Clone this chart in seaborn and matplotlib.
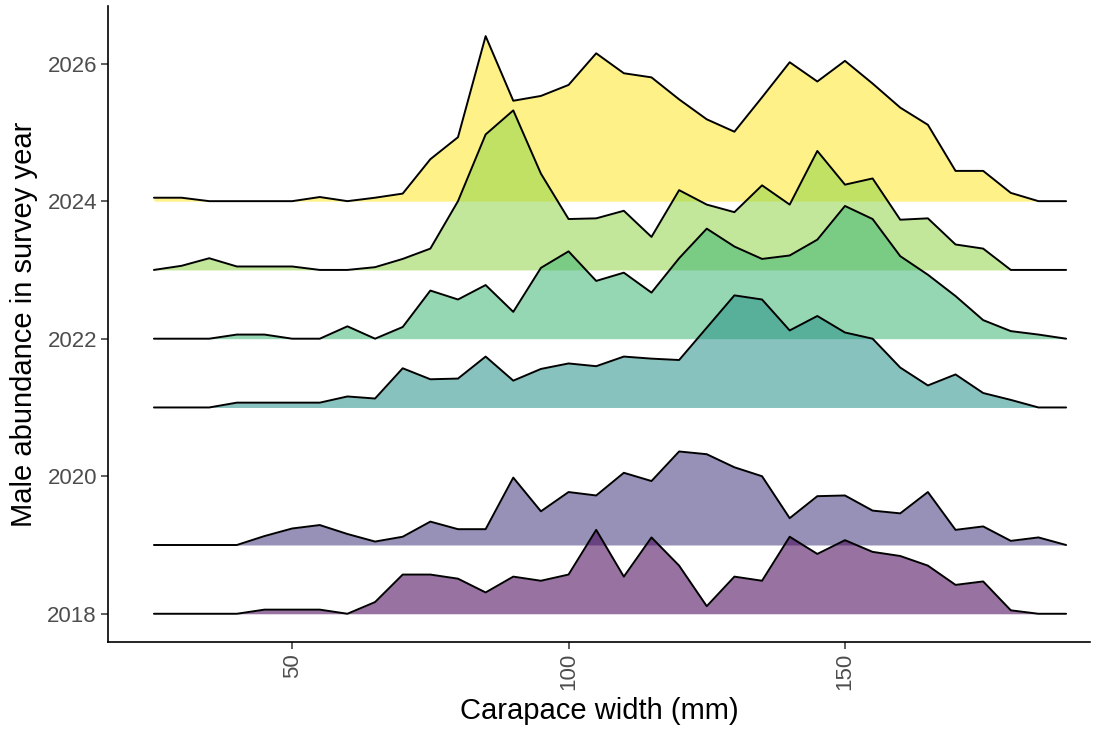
import numpy as np
import pandas as pd
import matplotlib
matplotlib.use("Agg")
import matplotlib.pyplot as plt
from matplotlib.colors import LinearSegmentedColormap
import seaborn as sns

# ---- data ----
years = [2018, 2019, 2021, 2022, 2023, 2024]
widths = [25, 30, 35, 40, 45, 50, 55, 60, 65, 70, 75, 80, 85, 90, 95, 100, 105,
          110, 115, 120, 125, 130, 135, 140, 145, 150, 155, 160, 165, 170, 175,
          180, 185, 190]
h2018 = [0, 0, 0, 0, 0.06, 0.06, 0.06, 0, 0.17, 0.57, 0.57, 0.51, 0.31, 0.54, 0.48,
         0.57, 1.22, 0.54, 1.11, 0.70, 0.11, 0.54, 0.48, 1.12, 0.87, 1.07, 0.90,
         0.84, 0.70, 0.42, 0.47, 0.05, 0, 0]
h2019 = [0, 0, 0, 0, 0.13, 0.24, 0.29, 0.16, 0.05, 0.12, 0.34, 0.23, 0.23, 0.98, 0.49,
         0.77, 0.72, 1.05, 0.93, 1.36, 1.32, 1.13, 1.00, 0.39, 0.71, 0.72, 0.50,
         0.46, 0.77, 0.22, 0.27, 0.06, 0.11, 0]
h2021 = [0, 0, 0, 0.07, 0.07, 0.07, 0.07, 0.16, 0.13, 0.57, 0.41, 0.42, 0.74, 0.39,
         0.56, 0.64, 0.60, 0.74, 0.71, 0.69, 1.16, 1.63, 1.57, 1.12, 1.33, 1.09,
         1.00, 0.58, 0.32, 0.48, 0.21, 0.11, 0, 0]
h2022 = [0, 0, 0, 0.06, 0.06, 0, 0, 0.18, 0, 0.17, 0.70, 0.57, 0.78, 0.39, 1.03,
         1.27, 0.84, 0.96, 0.67, 1.17, 1.60, 1.34, 1.16, 1.21, 1.44, 1.93, 1.74,
         1.20, 0.93, 0.62, 0.27, 0.11, 0.06, 0]
h2023 = [0, 0.06, 0.17, 0.05, 0.05, 0.05, 0, 0, 0.04, 0.16, 0.31, 1.00, 1.97, 2.32,
         1.40, 0.74, 0.75, 0.86, 0.48, 1.16, 0.95, 0.84, 1.23, 0.95, 1.73, 1.24,
         1.33, 0.73, 0.75, 0.37, 0.31, 0, 0, 0]
h2024 = [0.05, 0.05, 0, 0, 0, 0, 0.06, 0, 0.05, 0.11, 0.61, 0.93, 2.40, 1.46, 1.53,
         1.69, 2.15, 1.86, 1.80, 1.48, 1.19, 1.01, 1.51, 2.02, 1.74, 2.04, 1.71,
         1.36, 1.11, 0.44, 0.44, 0.12, 0, 0]
heights = {2018: h2018, 2019: h2019, 2021: h2021, 2022: h2022, 2023: h2023, 2024: h2024}

yticks = [2018, 2020, 2022, 2024, 2026]
xticks = [50, 100, 150]

rows = []
for yr in years:
    for w, h in zip(widths, heights[yr]):
        rows.append({"year": yr, "width": w, "h": h, "ridge": yr + h})
df = pd.DataFrame(rows)

# ---- style ----
sns.set_theme(style="white")
plt.rcParams["font.family"] = ["Liberation Sans", "DejaVu Sans"]

cmap = LinearSegmentedColormap.from_list(
    "vir6", ["#440154", "#414487", "#2A788E", "#22A884", "#7AD151", "#FDE725"])

fig = plt.figure(figsize=(10.97, 7.32), dpi=100)
ax = fig.add_axes([0.0985, 0.123, 0.895, 0.869])

ymin, ymax = min(years), max(years)
for i, yr in enumerate(sorted(years, reverse=True)):
    sub = df[df["year"] == yr]
    col = cmap((yr - ymin) / (ymax - ymin))
    ax.fill_between(sub["width"], yr, sub["ridge"], color=col, alpha=0.55,
                    linewidth=0, zorder=2 + 2 * i)
    sns.lineplot(data=sub, x="width", y="ridge", color="black", linewidth=1.4,
                 estimator=None, sort=False, ax=ax, zorder=3 + 2 * i)

ax.set_xlim(16.7, 194.3)
ax.set_ylim(2017.59, 2026.84)
ax.set_xticks(xticks)
ax.set_yticks(yticks)
ax.set_xlabel("Carapace width (mm)", fontsize=21, color="black", labelpad=5)
ax.set_ylabel("Male abundance in survey year", fontsize=21, color="black", labelpad=7)
ax.tick_params(axis="x", labelrotation=90)
ax.tick_params(axis="both", which="major", labelsize=16, labelcolor="#4D4D4D",
               color="#333333", length=5, width=1.1, direction="out", pad=3,
               bottom=True, left=True)
for s in ["top", "right"]:
    ax.spines[s].set_visible(False)
for s in ["left", "bottom"]:
    ax.spines[s].set_color("black")
    ax.spines[s].set_linewidth(1.2)
ax.grid(False)

fig.savefig("out.png", dpi=100)
